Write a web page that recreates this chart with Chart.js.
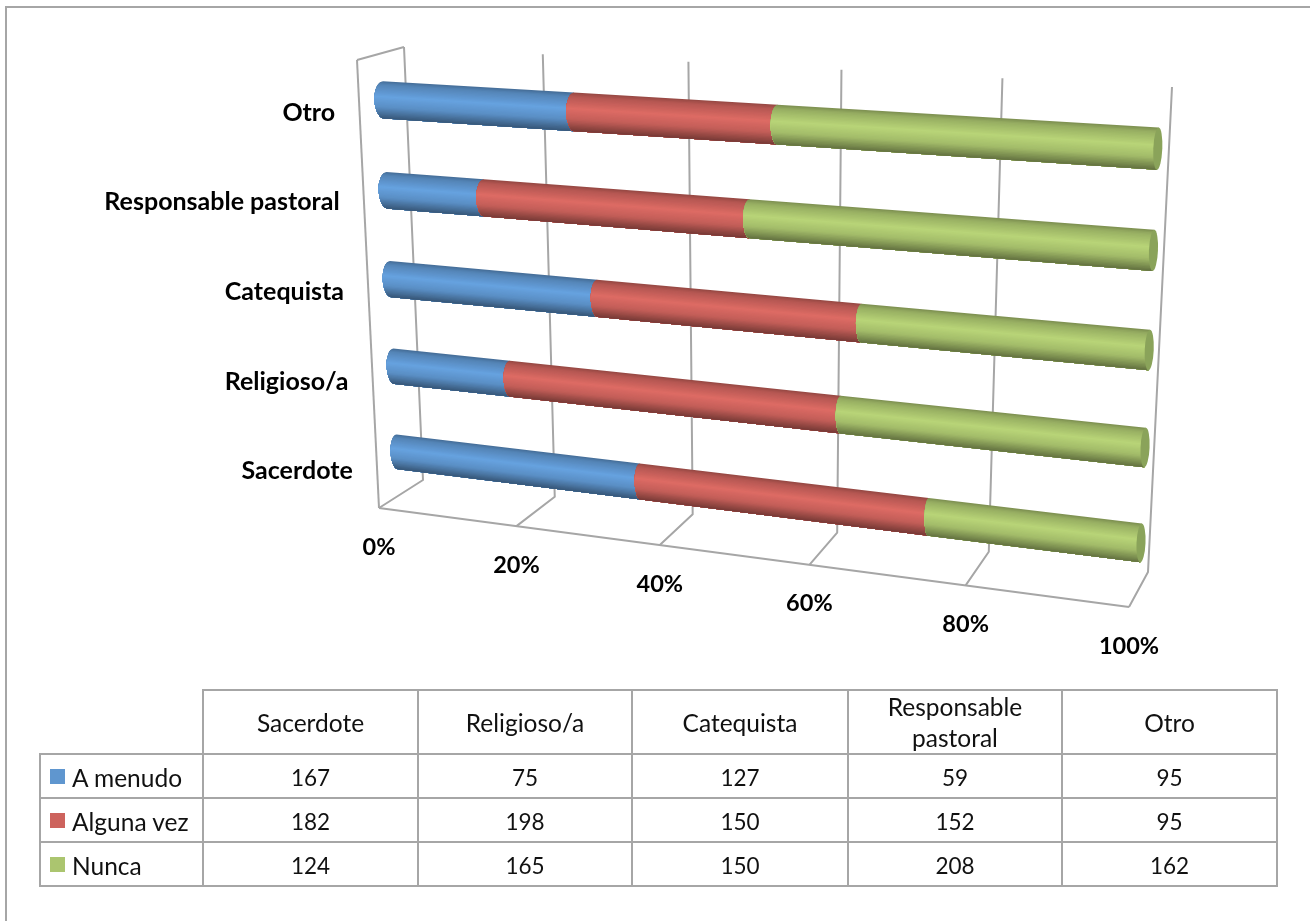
<!DOCTYPE html>
<html>
<head>
<meta charset="utf-8">
<title>Frecuencia por agente</title>
<script src="https://cdn.jsdelivr.net/npm/chart.js@4"></script>
<style>
  html, body { margin: 0; padding: 0; background: #fff; }
  #wrap { position: relative; width: 1310px; height: 921px; overflow: hidden; font-family: Lato, sans-serif; }
  #frame { position: absolute; left: 5px; top: 6px; width: 1320px; height: 913px; border: 2px solid #a6a6a6; border-right: none; box-sizing: content-box; }
  canvas { position: absolute; left: 0; top: 0; }
  table { position: absolute; left: 39px; top: 689px; border-collapse: collapse; table-layout: fixed; font-size: 22.5px; color: #111; }
  td { border: 2px solid #a6a6a6; text-align: center; padding: 3px 0 0 0; line-height: 31px; }
  td.head { font-size: 24.5px; padding: 0; }
  td.blank { border-top: none; border-left: none; padding: 0; }
  td.name { text-align: left; padding-left: 9px; white-space: nowrap; font-size: 24.5px; }
  .key { display: inline-block; width: 15px; height: 15px; margin-right: 7px; position: relative; top: -4px; vertical-align: middle; }
</style>
</head>
<body>
<div id="wrap">
  <div id="frame"></div>
  <canvas id="chart" width="1310" height="921"></canvas>
  <table id="dataTable"></table>
</div>
<script>
const categories = ['Sacerdote', 'Religioso/a', 'Catequista', 'Responsable pastoral', 'Otro'];
const seriesNames = ['A menudo', 'Alguna vez', 'Nunca'];
const aMenudo = [167, 75, 127, 59, 95];
const algunaVez = [182, 198, 150, 152, 95];
const nunca = [124, 165, 150, 208, 162];
const xTicks = [0, 20, 40, 60, 80, 100];
const colors = ['#5f96cf', '#cd635d', '#abc56f'];

// 3D box corners on the page: top left, top right, bottom right, bottom left
const barPlane = [[382, 54], [1160, 97], [1139, 590], [399, 494]];
const backWall = [[404, 47], [1172, 87], [1148, 572], [423, 480]];
const floorPlane = [[423, 480], [1148, 572], [1129, 607], [379, 508]];
const leftFront = [[357, 60], [379, 508]];
const gridColor = '#a6a6a6';
const capColor = '#8aa35a';
const shade = [[0, 0.72], [0.1, 0.88], [0.42, 1.08], [0.7, 0.95], [1, 0.58]];

const seriesValues = [aMenudo, algunaVez, nunca];
const totals = categories.map((c, i) => aMenudo[i] + algunaVez[i] + nunca[i]);
const asPercent = arr => arr.map((v, i) => v / totals[i] * 100);

// maps the unit square onto a four sided shape, keeps perspective
function quadMap(q) {
  const [[x0, y0], [x1, y1], [x2, y2], [x3, y3]] = q;
  const dx1 = x1 - x2, dx2 = x3 - x2, sx = x0 - x1 + x2 - x3;
  const dy1 = y1 - y2, dy2 = y3 - y2, sy = y0 - y1 + y2 - y3;
  const den = dx1 * dy2 - dx2 * dy1;
  const g = (sx * dy2 - dx2 * sy) / den;
  const h = (dx1 * sy - sx * dy1) / den;
  const a = x1 - x0 + g * x1, b = x3 - x0 + h * x3;
  const d = y1 - y0 + g * y1, e = y3 - y0 + h * y3;
  return (u, t) => {
    const w = g * u + h * t + 1;
    return [(a * u + b * t + x0) / w, (d * u + e * t + y0) / w];
  };
}

function shadeColor(hex, s) {
  let f = 1;
  for (let i = 1; i < shade.length; i++) {
    if (s <= shade[i][0]) {
      const k = (s - shade[i - 1][0]) / (shade[i][0] - shade[i - 1][0]);
      f = shade[i - 1][1] + (shade[i][1] - shade[i - 1][1]) * k;
      break;
    }
  }
  const n = parseInt(hex.slice(1), 16);
  const ch = v => Math.min(255, Math.round(v * f));
  return `rgb(${ch(n >> 16)},${ch((n >> 8) & 255)},${ch(n & 255)})`;
}

function line(ctx, a, b) {
  ctx.beginPath();
  ctx.moveTo(a[0], a[1]);
  ctx.lineTo(b[0], b[1]);
  ctx.stroke();
}

function capEllipse(ctx, T, B, rx, start, end, ccw) {
  const cx = (T[0] + B[0]) / 2, cy = (T[1] + B[1]) / 2;
  const ry = Math.hypot(B[0] - T[0], B[1] - T[1]) / 2;
  ctx.ellipse(cx, cy, ry, rx, Math.atan2(B[1] - T[1], B[0] - T[0]), start, end, ccw);
}

const cylinderPlugin = {
  id: 'cylinder',
  beforeDatasetsDraw(chart) {
    const ctx = chart.ctx, area = chart.chartArea, xs = chart.scales.x;
    const normU = px => (px - area.left) / (area.right - area.left);
    const normT = py => (py - area.top) / (area.bottom - area.top);
    const wall = quadMap(backWall), flr = quadMap(floorPlane), plane = quadMap(barPlane);

    // walls and floor
    ctx.save();
    ctx.strokeStyle = gridColor;
    ctx.lineWidth = 2;
    ctx.lineJoin = 'round';
    xs.ticks.forEach(tick => {
      const u = normU(xs.getPixelForValue(tick.value));
      ctx.beginPath();
      const top = wall(u, 0), bot = wall(u, 1), front = flr(u, 1);
      ctx.moveTo(top[0], top[1]);
      ctx.lineTo(bot[0], bot[1]);
      ctx.lineTo(front[0], front[1]);
      ctx.stroke();
    });
    line(ctx, flr(0, 1), flr(1, 1));
    line(ctx, leftFront[0], leftFront[1]);
    line(ctx, leftFront[0], backWall[0]);

    // axis texts
    ctx.fillStyle = '#000';
    ctx.font = 'bold 23.5px Lato';
    ctx.textAlign = 'center';
    ctx.textBaseline = 'middle';
    xs.ticks.forEach(tick => {
      const p = flr(normU(xs.getPixelForValue(tick.value)), 1);
      ctx.fillText(tick.value + '%', p[0], p[1] + 39);
    });
    const ys = chart.scales.y;
    ctx.font = 'bold 25px Lato';
    ctx.textAlign = 'right';
    categories.forEach((name, i) => {
      const t = normT(ys.getPixelForValue(i));
      const x = leftFront[0][0] + (leftFront[1][0] - leftFront[0][0]) * t - 24;
      const y = leftFront[0][1] + (leftFront[1][1] - leftFront[0][1]) * t + 8;
      ctx.fillText(name, x, y);
    });
    ctx.restore();

    // cylinders, left to right so every piece laps over the one before
    chart.data.datasets.forEach((ds, di) => {
      chart.getDatasetMeta(di).data.forEach(bar => {
        const p = bar.getProps(['x', 'y', 'base', 'height'], true);
        const u0 = normU(p.base), u1 = normU(p.x);
        const t0 = normT(p.y - p.height / 2), t1 = normT(p.y + p.height / 2);
        const TL = plane(u0, t0), BL = plane(u0, t1), TR = plane(u1, t0), BR = plane(u1, t1);
        const last = di === chart.data.datasets.length - 1;

        ctx.save();
        ctx.beginPath();
        ctx.moveTo(TL[0], TL[1]);
        capEllipse(ctx, TL, BL, 9.5 - 3 * t0 - 4 * u0, Math.PI, 0, true);
        ctx.lineTo(BR[0], BR[1]);
        ctx.lineTo(TR[0], TR[1]);
        ctx.closePath();
        ctx.clip();
        const bands = 30;
        for (let k = 0; k < bands; k++) {
          const s = k / bands;
          const ta = k === 0 ? t0 - 0.01 : t0 + (t1 - t0) * s;
          const a = plane(u0 - 0.03, ta), b = plane(u1 + 0.01, ta);
          const c = plane(u1 + 0.01, t1 + 0.01), d = plane(u0 - 0.03, t1 + 0.01);
          ctx.fillStyle = shadeColor(ds.backgroundColor, s + 0.5 / bands);
          ctx.beginPath();
          ctx.moveTo(a[0], a[1]);
          ctx.lineTo(b[0], b[1]);
          ctx.lineTo(c[0], c[1]);
          ctx.lineTo(d[0], d[1]);
          ctx.closePath();
          ctx.fill();
        }
        ctx.restore();

        if (last) {
          ctx.fillStyle = capColor;
          ctx.beginPath();
          capEllipse(ctx, TR, BR, 4.5, 0, Math.PI * 2, false);
          ctx.fill();
        }
      });
    });
    return false;
  }
};

new Chart(document.getElementById('chart'), {
  type: 'bar',
  plugins: [cylinderPlugin],
  data: {
    labels: categories,
    datasets: seriesNames.map((name, i) => ({
      label: name,
      data: asPercent(seriesValues[i]),
      backgroundColor: colors[i],
      barPercentage: 0.41,
      categoryPercentage: 1
    }))
  },
  options: {
    indexAxis: 'y',
    responsive: false,
    animation: false,
    layout: { padding: { left: 380, right: 150, top: 56, bottom: 325 } },
    plugins: { legend: { display: false }, tooltip: { enabled: false } },
    scales: {
      x: { stacked: true, min: 0, max: 100, display: false, afterBuildTicks: s => { s.ticks = xTicks.map(v => ({ value: v })); } },
      y: { stacked: true, reverse: true, display: false }
    }
  }
});

// data table under the chart
const widths = [163, 215, 214, 216, 214, 215];
const rowHeights = [64, 44, 44, 44];
const tableEl = document.getElementById('dataTable');
let html = '<colgroup>' + widths.map(w => `<col style="width:${w}px">`).join('') + '</colgroup>';
html += `<tr style="height:${rowHeights[0]}px"><td class="blank"></td>` +
  categories.map(c => `<td class="head">${c.replace(' ', '<br>')}</td>`).join('') + '</tr>';
seriesNames.forEach((name, i) => {
  html += `<tr style="height:${rowHeights[i + 1]}px"><td class="name"><span class="key" style="background:${colors[i]}"></span>${name}</td>` +
    seriesValues[i].map(v => `<td>${v}</td>`).join('') + '</tr>';
});
tableEl.innerHTML = html;
</script>
</body>
</html>
